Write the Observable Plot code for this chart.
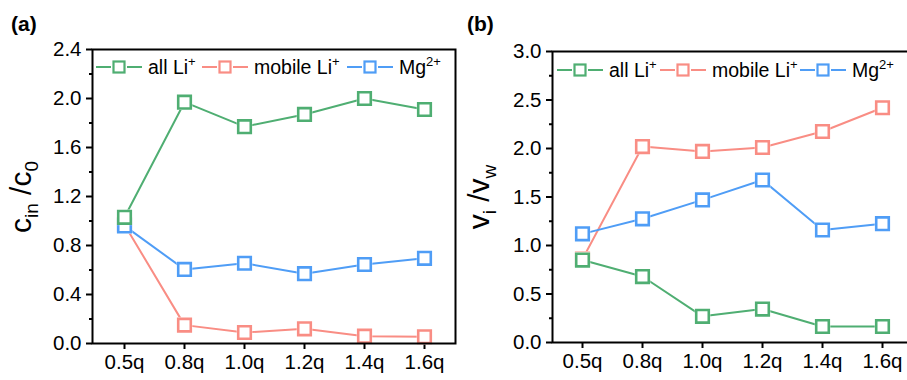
<!DOCTYPE html>
<html>
<head>
<meta charset="utf-8">
<script src="https://cdn.jsdelivr.net/npm/d3@7"></script>
<script src="https://cdn.jsdelivr.net/npm/@observablehq/plot@0.6"></script>
<style>
  html, body { margin: 0; padding: 0; background: #fff; }
  #wrap { position: relative; width: 907px; height: 380px; overflow: hidden; background: #fff; font-family: Arial, "Liberation Sans", sans-serif; }
  #wrap > svg, #wrap > div { position: absolute; top: 0; }
</style>
</head>
<body>
<div id="wrap"></div>
<script>
// ---- data ----
const categories = ["0.5q", "0.8q", "1.0q", "1.2q", "1.4q", "1.6q"];
const seriesNames = ["all Li", "mobile Li", "Mg"];
// panel (a): c_in / c_0
const aAllLi    = [1.03, 1.97, 1.77, 1.87, 2.00, 1.91];
const aMobileLi = [0.97, 0.15, 0.09, 0.12, 0.06, 0.055];
const aMg       = [0.96, 0.605, 0.655, 0.57, 0.645, 0.695];
// panel (b): v_i / v_w
const bAllLi    = [0.85, 0.68, 0.27, 0.345, 0.165, 0.165];
const bMobileLi = [0.86, 2.02, 1.97, 2.01, 2.175, 2.42];
const bMg       = [1.12, 1.275, 1.47, 1.675, 1.16, 1.225];
// ticks
const aTicks = [0, 0.4, 0.8, 1.2, 1.6, 2.0, 2.4];
const aMinor = [0.2, 0.6, 1.0, 1.4, 1.8, 2.2];
const bTicks = [0, 0.5, 1.0, 1.5, 2.0, 2.5, 3.0];
const bMinor = [0.25, 0.75, 1.25, 1.75, 2.25, 2.75];

const colors = { green: "#4fae72", red: "#f98d84", blue: "#4f9df6" };
const FONT = 'Arial, "Liberation Sans", sans-serif';
const TICK_FS = 20.5;

function rows(vals) { return categories.map((c, i) => ({ cat: c, v: vals[i] })); }

function seriesMarks(vals, color) {
  const d = rows(vals);
  return [
    Plot.line(d, { x: "cat", y: "v", stroke: color, strokeWidth: 2 }),
    Plot.dot(d, { x: "cat", y: "v", symbol: "square", r: 8.8, fill: "white", stroke: null }),
    Plot.dot(d, { x: "cat", y: "v", symbol: "square", r: 7.1, fill: "white", stroke: color, strokeWidth: 2.6 })
  ];
}

function panel(opts) {
  return Plot.plot({
    width: 460, height: 380,
    marginLeft: 92, marginRight: opts.mr, marginTop: opts.mt, marginBottom: opts.mb,
    style: { fontFamily: FONT, fontSize: TICK_FS + "px", color: "black", background: "transparent", overflow: "visible" },
    x: { type: "point", domain: categories, padding: 0.5 },
    y: { domain: opts.domain },
    marks: [
      Plot.axisY({ ticks: opts.minor, tickSize: 3, strokeWidth: 2, tickFormat: () => "", label: null }),
      Plot.axisY({ ticks: opts.ticks, tickSize: 6, tickPadding: 5, strokeWidth: 2, fontSize: TICK_FS, tickFormat: d3.format(".1f"), label: null }),
      Plot.axisX({ tickSize: 6, tickPadding: 5, strokeWidth: 2, fontSize: TICK_FS, label: null }),
      ...seriesMarks(opts.red, colors.red),
      ...seriesMarks(opts.blue, colors.blue),
      ...seriesMarks(opts.green, colors.green),
      Plot.frame({ stroke: "black", strokeWidth: 2 })
    ]
  });
}

const wrap = document.getElementById("wrap");
const pa = panel({ mr: 5, mt: 49, mb: 37, domain: [0, 2.4], ticks: aTicks, minor: aMinor, green: aAllLi, red: aMobileLi, blue: aMg });
pa.style.left = "0px";
wrap.appendChild(pa);
const pb = panel({ mr: 8, mt: 51, mb: 38, domain: [0, 3.0], ticks: bTicks, minor: bMinor, green: bAllLi, red: bMobileLi, blue: bMg });
pb.style.left = "460px";
wrap.appendChild(pb);

// ---- overlay: panel letters, axis titles, legends ----
const ov = d3.select(wrap).append("svg")
  .attr("width", 907).attr("height", 380)
  .style("left", "0px").style("pointer-events", "none")
  .attr("font-family", FONT);

ov.append("text").attr("x", 11).attr("y", 31).attr("font-size", 21).attr("font-weight", "bold").text("(a)");
ov.append("text").attr("x", 467).attr("y", 31).attr("font-size", 21).attr("font-weight", "bold").text("(b)");

function yTitle(x, main, sub1, main2, sub2) {
  const t = ov.append("text")
    .attr("transform", `translate(${x},197) rotate(-90)`)
    .attr("text-anchor", "middle").attr("font-size", 30);
  t.append("tspan").text(main);
  t.append("tspan").attr("font-size", 19).attr("dy", 7).text(sub1);
  t.append("tspan").attr("dy", -7).text("\u00a0/" + main2);
  t.append("tspan").attr("font-size", 19).attr("dy", 7).text(sub2);
}
yTitle(31, "c", "in", "c", "0");
yTitle(489, "v", "i", "v", "w");

function legend(y, items) {
  const labels = [["all Li", "+"], ["mobile Li", "+"], ["Mg", "2+"]];
  const cols = [colors.green, colors.red, colors.blue];
  items.forEach((x0, i) => {
    const g = ov.append("g");
    g.append("line").attr("x1", x0).attr("x2", x0 + 46).attr("y1", y).attr("y2", y)
      .attr("stroke", cols[i]).attr("stroke-width", 2);
    g.append("rect").attr("x", x0 + 23 - 8).attr("y", y - 8).attr("width", 16).attr("height", 16).attr("fill", "white");
    g.append("rect").attr("x", x0 + 23 - 5.5).attr("y", y - 5.5).attr("width", 11).attr("height", 11)
      .attr("fill", "white").attr("stroke", cols[i]).attr("stroke-width", 2.2);
    const t = g.append("text").attr("x", x0 + 52).attr("y", y + 7).attr("font-size", 19.5);
    t.append("tspan").text(labels[i][0]);
    t.append("tspan").attr("font-size", 13).attr("dy", -8).text(labels[i][1]);
  });
}
legend(67, [96, 202, 347]);
legend(70, [557, 660, 800]);
</script>
</body>
</html>
